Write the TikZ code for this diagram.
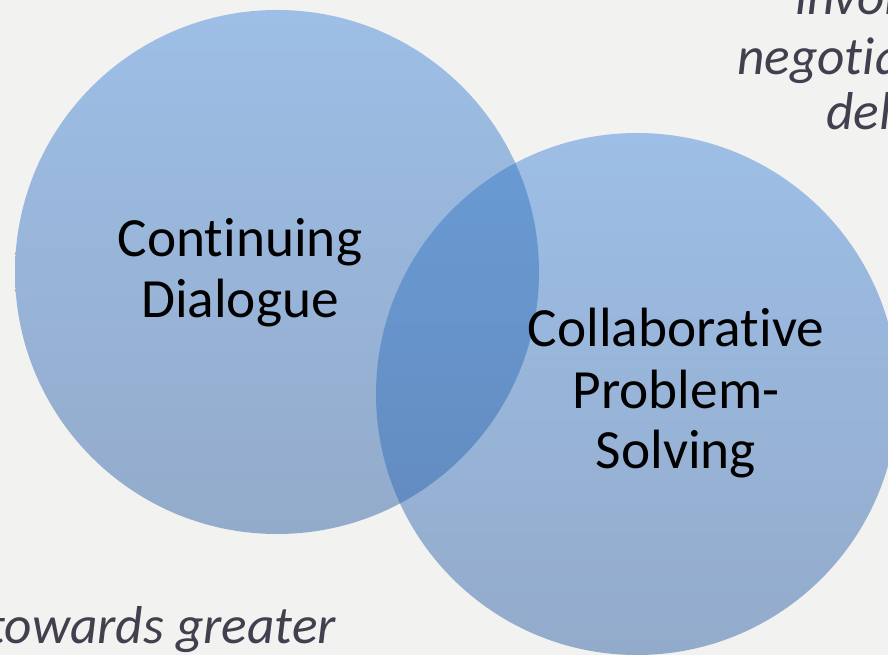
\documentclass[tikz,border=0pt]{standalone}
\usepackage{fontspec}
\setmainfont{Carlito}[Ligatures=NoCommon]
\definecolor{bgc}{RGB}{242,242,240}
\definecolor{ctop}{RGB}{157,190,230}
\definecolor{cbot}{RGB}{147,171,203}
\definecolor{otop}{RGB}{106,155,212}
\definecolor{obot}{RGB}{96,135,186}
\definecolor{itxt}{RGB}{64,64,78}
\begin{document}
\begin{tikzpicture}[x=0.75pt,y=-0.75pt,
  lbl/.style={inner sep=0pt,anchor=base,font=\fontsize{41.5}{45}\selectfont,text=black},
  side/.style={inner sep=0pt,font=\fontsize{40}{45}\selectfont\itshape,text=itxt}]
\useasboundingbox (0,0) rectangle (888,655);
\fill[bgc] (0,0) rectangle (888,655);
\coordinate (L) at (277,272);
\coordinate (R) at (637,394);
\shade[top color=ctop,bottom color=cbot] (L) circle[radius=262];
\shade[top color=ctop,bottom color=cbot] (R) circle[radius=261];
\begin{scope}
  \clip (L) circle[radius=262];
  \shade[top color=otop,bottom color=obot] (R) circle[radius=261];
\end{scope}
\node[lbl] (cd1) at (240,257) {Continuing};
\node[lbl] (cd2) at (240,318) {Dialogue};
\node[lbl] (cp1) at (676,347) {Collaborative};
\node[lbl] (cp2) at (676,408) {Problem-};
\node[lbl] (cp3) at (676,468) {Solving};
\node[side,anchor=base west] (t1) at (795,15) {invol};
\node[side,anchor=base west] (t2) at (737,75) {negotia};
\node[side,anchor=base west] (t3) at (826,130) {del};
\node[side,anchor=base east] (t4) at (336,643) {towards greater};
\end{tikzpicture}
\end{document}
